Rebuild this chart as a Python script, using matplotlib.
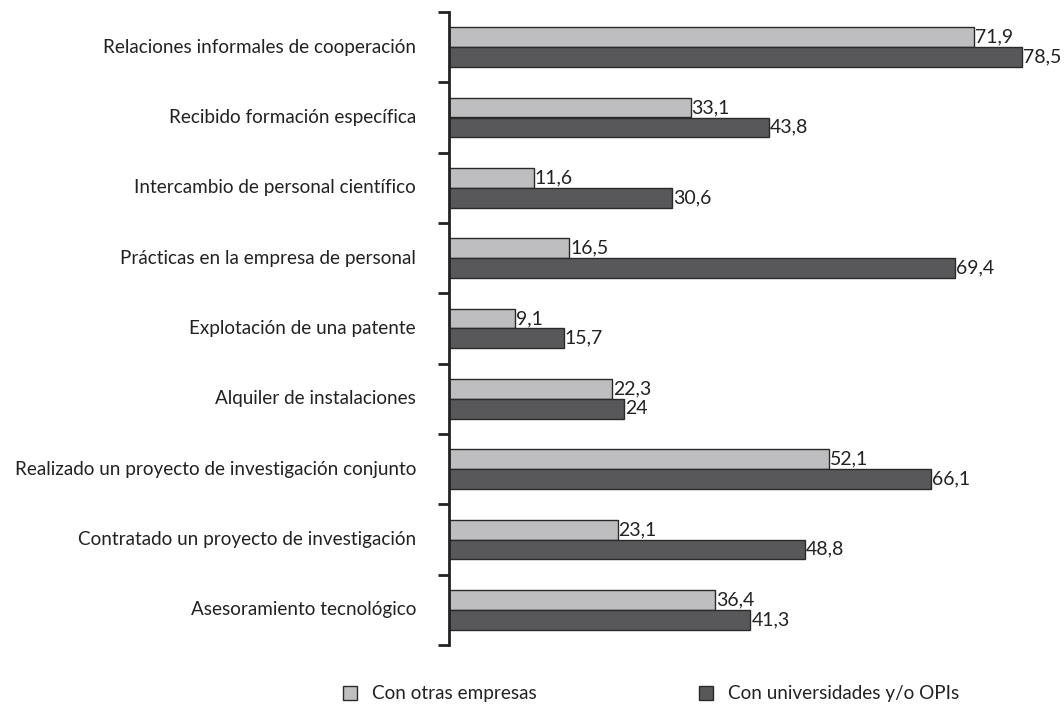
import numpy as np
import matplotlib.pyplot as plt
from matplotlib.patches import Patch

categorias = [
    "Relaciones informales de cooperación",
    "Recibido formación específica",
    "Intercambio de personal científico",
    "Prácticas en la empresa de personal",
    "Explotación de una patente",
    "Alquiler de instalaciones",
    "Realizado un proyecto de investigación conjunto",
    "Contratado un proyecto de investigación",
    "Asesoramiento tecnológico",
]
otras_empresas = [71.9, 33.1, 11.6, 16.5, 9.1, 22.3, 52.1, 23.1, 36.4]
universidades = [78.5, 43.8, 30.6, 69.4, 15.7, 24, 66.1, 48.8, 41.3]
series_nombres = ["Con otras empresas", "Con universidades y/o OPIs"]

plt.rcParams['font.family'] = ['Lato', 'DejaVu Sans']

c_claro = "#bebec0"
c_oscuro = "#58585a"
c_borde = "#2a2a2a"
c_texto = "#222222"

fig = plt.figure(figsize=(10.64, 7.08), dpi=100, facecolor="white")
ax = fig.add_axes([449 / 1064, 63 / 708, 1 - 449 / 1064 - 0.002, (645 - 12) / 708])

n = len(categorias)
y = np.arange(n)
h = 0.28

b1 = ax.barh(y - h / 2, otras_empresas, height=h, color=c_claro,
             edgecolor=c_borde, linewidth=1)
b2 = ax.barh(y + h / 2, universidades, height=h, color=c_oscuro,
             edgecolor=c_borde, linewidth=1)


def fmt(v):
    return ("%g" % v).replace(".", ",")


for bars, vals in ((b1, otras_empresas), (b2, universidades)):
    for bar, v in zip(bars, vals):
        ax.text(v + 0.15, bar.get_y() + bar.get_height() / 2, fmt(v),
                va="center", ha="left", fontsize=14, color=c_texto)

ax.set_ylim(n - 0.5, -0.5)
ax.set_xlim(0, 84)

# marcas en los limites de cada categoria
ax.set_yticks(np.arange(n + 1) - 0.5)
ax.set_yticklabels([])
ax.tick_params(axis="y", direction="out", length=8, width=2, color=c_texto)
for yi, lab in zip(y, categorias):
    ax.annotate(lab, xy=(0, yi), xycoords=("axes fraction", "data"),
                xytext=(-33, 0), textcoords="offset pixels",
                ha="right", va="center", fontsize=13.6, color=c_texto)

ax.xaxis.set_visible(False)
for s in ("top", "right", "bottom"):
    ax.spines[s].set_visible(False)
ax.spines["left"].set_linewidth(2)
ax.spines["left"].set_color(c_texto)

# leyenda: dos entradas colocadas por separado
colores = [c_claro, c_oscuro]
xs = [343, 699]
for nombre, col, x0 in zip(series_nombres, colores, xs):
    fig.legend([Patch(facecolor=col, edgecolor=c_borde, linewidth=1)], [nombre],
               loc="center left", bbox_to_anchor=(x0 / 1064, 1 - 694 / 708),
               frameon=False, fontsize=13.6, handlelength=0.75, handleheight=0.75,
               handletextpad=0.8, borderpad=0, borderaxespad=0, labelcolor=c_texto)

plt.savefig("out.png", dpi=100, facecolor="white")
